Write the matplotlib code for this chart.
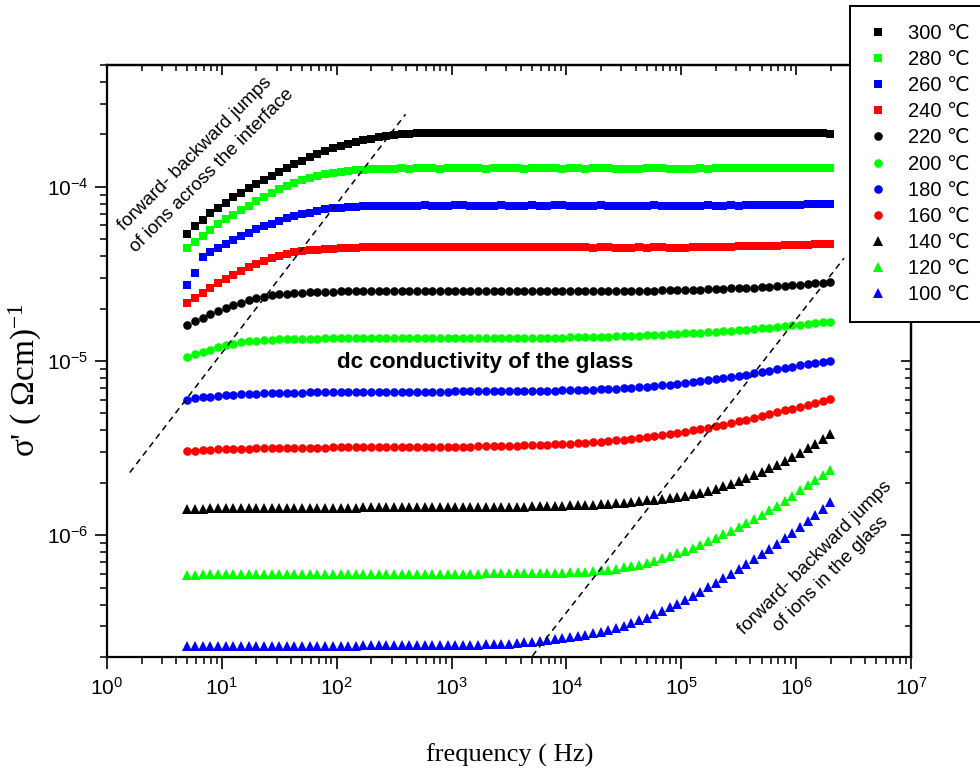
import matplotlib
matplotlib.use("Agg")
import matplotlib.pyplot as plt
from matplotlib.ticker import LogLocator, NullFormatter

plt.rcParams['font.family'] = ['Liberation Sans', 'DejaVu Sans']
plt.rcParams['mathtext.default'] = 'regular'

# Measurement frequencies (Hz), 15 points per decade from 5 Hz to 2 MHz
FREQ_HZ = [
    5.00, 5.83, 6.80, 7.93, 9.24, 10.8, 12.6, 14.6, 17.1, 19.9, 23.2, 27.1, 31.5, 36.8, 42.9,
    50.0, 58.3, 68.0, 79.3, 92.4, 108, 126, 146, 171, 199, 232, 271, 315, 368, 429,
    500, 583, 680, 793, 924, 1.08e3, 1.26e3, 1.46e3, 1.71e3, 1.99e3, 2.32e3, 2.71e3, 3.15e3, 3.68e3, 4.29e3,
    5.00e3, 5.83e3, 6.80e3, 7.93e3, 9.24e3, 1.08e4, 1.26e4, 1.46e4, 1.71e4, 1.99e4, 2.32e4, 2.71e4, 3.15e4, 3.68e4, 4.29e4,
    5.00e4, 5.83e4, 6.80e4, 7.93e4, 9.24e4, 1.08e5, 1.26e5, 1.46e5, 1.71e5, 1.99e5, 2.32e5, 2.71e5, 3.15e5, 3.68e5, 4.29e5,
    5.00e5, 5.83e5, 6.80e5, 7.93e5, 9.24e5, 1.08e6, 1.26e6, 1.46e6, 1.71e6, 1.99e6,
]

# Real part of conductivity, sigma' (in units of 1e-5 S/cm)
SIG_300 = [
    5.39, 5.94, 6.43, 7.05, 7.57, 8.09, 8.68, 9.16, 9.78, 10.35, 11.0, 11.55, 12.2, 12.75, 13.45,
    14.1, 14.75, 15.4, 16.05, 16.6, 17.15, 17.65, 18.05, 18.5, 18.85, 19.2, 19.5, 19.85, 20.0, 20.15,
    20.25, 20.3, 20.3, 20.35, 20.3, 20.35, 20.4, 20.3, 20.35, 20.35, 20.3, 20.3, 20.35, 20.4, 20.3,
    20.35, 20.4, 20.45, 20.35, 20.3, 20.35, 20.4, 20.3, 20.35, 20.4, 20.45, 20.35, 20.35, 20.3, 20.35,
    20.4, 20.3, 20.35, 20.35, 20.3, 20.25, 20.35, 20.3, 20.4, 20.35, 20.45, 20.35, 20.4, 20.3, 20.25,
    20.3, 20.35, 20.3, 20.35, 20.3, 20.25, 20.3, 20.3, 20.25, 20.2,
]
SIG_280 = [
    4.46, 4.83, 5.20, 5.63, 6.10, 6.49, 6.93, 7.34, 7.77, 8.26, 8.75, 9.23, 9.69, 10.1, 10.55,
    10.9, 11.25, 11.5, 11.8, 12.0, 12.2, 12.35, 12.45, 12.55, 12.6, 12.65, 12.7, 12.7, 12.75, 12.7,
    12.75, 12.8, 12.75, 12.7, 12.75, 12.75, 12.8, 12.75, 12.75, 12.7, 12.75, 12.8, 12.75, 12.75, 12.7,
    12.75, 12.75, 12.8, 12.75, 12.7, 12.75, 12.75, 12.7, 12.75, 12.8, 12.75, 12.7, 12.65, 12.7, 12.7,
    12.75, 12.8, 12.75, 12.7, 12.65, 12.7, 12.7, 12.75, 12.7, 12.75, 12.75, 12.8, 12.75, 12.75, 12.8,
    12.8, 12.75, 12.8, 12.8, 12.85, 12.8, 12.85, 12.85, 12.9, 12.9,
]
SIG_260 = [
    2.72, 3.18, 3.96, 4.23, 4.48, 4.72, 4.98, 5.22, 5.46, 5.69, 5.94, 6.15, 6.37, 6.58, 6.78,
    6.96, 7.11, 7.27, 7.41, 7.51, 7.60, 7.67, 7.70, 7.73, 7.75, 7.77, 7.78, 7.78, 7.80, 7.78,
    7.80, 7.82, 7.80, 7.79, 7.80, 7.82, 7.84, 7.80, 7.80, 7.79, 7.80, 7.82, 7.80, 7.78, 7.80,
    7.82, 7.80, 7.80, 7.84, 7.82, 7.80, 7.80, 7.78, 7.80, 7.82, 7.80, 7.80, 7.78, 7.76, 7.78,
    7.80, 7.82, 7.80, 7.78, 7.76, 7.78, 7.80, 7.80, 7.82, 7.80, 7.80, 7.82, 7.80, 7.82, 7.84,
    7.84, 7.82, 7.84, 7.86, 7.88, 7.90, 7.92, 7.94, 7.96, 7.98,
]
SIG_240 = [
    2.15, 2.31, 2.47, 2.63, 2.81, 2.97, 3.13, 3.29, 3.47, 3.62, 3.75, 3.89, 3.99, 4.10, 4.20,
    4.27, 4.32, 4.36, 4.40, 4.42, 4.44, 4.46, 4.48, 4.49, 4.50, 4.50, 4.51, 4.50, 4.50, 4.51,
    4.50, 4.52, 4.50, 4.49, 4.50, 4.51, 4.50, 4.50, 4.49, 4.50, 4.50, 4.51, 4.50, 4.50, 4.49,
    4.50, 4.50, 4.51, 4.52, 4.50, 4.49, 4.50, 4.50, 4.48, 4.49, 4.50, 4.48, 4.47, 4.48, 4.49,
    4.48, 4.49, 4.50, 4.48, 4.47, 4.48, 4.50, 4.50, 4.51, 4.52, 4.53, 4.54, 4.55, 4.56, 4.57,
    4.58, 4.59, 4.60, 4.61, 4.62, 4.64, 4.65, 4.67, 4.69, 4.71,
]
SIG_220 = [
    1.60, 1.69, 1.77, 1.85, 1.94, 2.01, 2.09, 2.16, 2.23, 2.29, 2.34, 2.38, 2.41, 2.44, 2.46,
    2.47, 2.48, 2.49, 2.50, 2.50, 2.51, 2.51, 2.52, 2.51, 2.52, 2.52, 2.51, 2.52, 2.52, 2.53,
    2.52, 2.52, 2.53, 2.52, 2.52, 2.52, 2.53, 2.52, 2.52, 2.53, 2.52, 2.52, 2.51, 2.52, 2.52,
    2.52, 2.52, 2.51, 2.52, 2.52, 2.51, 2.51, 2.52, 2.52, 2.51, 2.51, 2.52, 2.52, 2.52, 2.53,
    2.53, 2.53, 2.54, 2.54, 2.55, 2.55, 2.56, 2.57, 2.58, 2.59, 2.60, 2.61, 2.62, 2.63, 2.64,
    2.65, 2.67, 2.68, 2.70, 2.72, 2.74, 2.76, 2.79, 2.82, 2.85,
]
SIG_200 = [
    1.055, 1.09, 1.125, 1.16, 1.20, 1.23, 1.26, 1.28, 1.30, 1.31, 1.32, 1.325, 1.33, 1.335, 1.34,
    1.34, 1.345, 1.345, 1.35, 1.35, 1.35, 1.35, 1.355, 1.35, 1.35, 1.355, 1.35, 1.35, 1.35, 1.355,
    1.35, 1.355, 1.35, 1.35, 1.35, 1.35, 1.35, 1.35, 1.35, 1.35, 1.35, 1.35, 1.35, 1.35, 1.355,
    1.355, 1.355, 1.36, 1.36, 1.36, 1.365, 1.365, 1.37, 1.37, 1.375, 1.38, 1.385, 1.39, 1.395, 1.40,
    1.405, 1.41, 1.415, 1.42, 1.43, 1.44, 1.445, 1.455, 1.465, 1.475, 1.485, 1.495, 1.505, 1.515, 1.53,
    1.54, 1.555, 1.57, 1.585, 1.60, 1.615, 1.63, 1.65, 1.665, 1.685,
]
# sigma' in units of 1e-6 S/cm
SIG_180 = [
    6.00, 6.10, 6.18, 6.25, 6.30, 6.35, 6.40, 6.43, 6.46, 6.49, 6.51, 6.53, 6.55, 6.56, 6.57,
    6.58, 6.60, 6.60, 6.61, 6.62, 6.62, 6.63, 6.63, 6.64, 6.64, 6.65, 6.65, 6.66, 6.66, 6.67,
    6.67, 6.67, 6.68, 6.68, 6.68, 6.69, 6.69, 6.70, 6.70, 6.70, 6.71, 6.71, 6.72, 6.72, 6.73,
    6.74, 6.75, 6.76, 6.77, 6.79, 6.80, 6.82, 6.84, 6.86, 6.89, 6.92, 6.95, 6.99, 7.03, 7.08,
    7.13, 7.19, 7.25, 7.32, 7.40, 7.48, 7.57, 7.66, 7.76, 7.87, 7.98, 8.10, 8.23, 8.36, 8.50,
    8.64, 8.79, 8.95, 9.11, 9.27, 9.43, 9.58, 9.74, 9.90, 10.05,
]
SIG_160 = [
    3.03, 3.06, 3.08, 3.10, 3.11, 3.12, 3.13, 3.14, 3.14, 3.15, 3.15, 3.16, 3.16, 3.17, 3.17,
    3.17, 3.18, 3.18, 3.18, 3.19, 3.19, 3.19, 3.20, 3.20, 3.20, 3.20, 3.21, 3.21, 3.21, 3.21,
    3.21, 3.22, 3.22, 3.22, 3.22, 3.23, 3.23, 3.23, 3.24, 3.24, 3.25, 3.25, 3.26, 3.27, 3.28,
    3.29, 3.30, 3.31, 3.33, 3.34, 3.36, 3.38, 3.40, 3.42, 3.45, 3.48, 3.51, 3.54, 3.58, 3.62,
    3.66, 3.71, 3.76, 3.81, 3.87, 3.93, 4.00, 4.07, 4.15, 4.23, 4.32, 4.41, 4.51, 4.61, 4.72,
    4.83, 4.95, 5.07, 5.20, 5.33, 5.47, 5.61, 5.76, 5.92, 6.08,
]
SIG_140 = [
    1.42, 1.42, 1.42, 1.43, 1.43, 1.43, 1.43, 1.43, 1.43, 1.43, 1.44, 1.44, 1.44, 1.44, 1.44,
    1.44, 1.44, 1.44, 1.44, 1.44, 1.44, 1.44, 1.44, 1.445, 1.445, 1.445, 1.445, 1.445, 1.445, 1.445,
    1.445, 1.445, 1.445, 1.445, 1.445, 1.45, 1.45, 1.45, 1.45, 1.45, 1.45, 1.455, 1.455, 1.46, 1.46,
    1.465, 1.47, 1.47, 1.475, 1.48, 1.485, 1.49, 1.495, 1.50, 1.51, 1.52, 1.53, 1.54, 1.555, 1.57,
    1.585, 1.60, 1.62, 1.64, 1.66, 1.69, 1.72, 1.75, 1.79, 1.85, 1.91, 1.97, 2.04, 2.12, 2.21,
    2.31, 2.42, 2.54, 2.67, 2.82, 2.98, 3.16, 3.36, 3.58, 3.82,
]
# sigma' in units of 1e-7 S/cm
SIG_120 = [
    5.95, 5.95, 5.96, 5.96, 5.97, 5.97, 5.97, 5.98, 5.98, 5.98, 5.98, 5.99, 5.99, 5.99, 5.99,
    6.00, 6.00, 6.00, 6.00, 6.00, 6.00, 6.00, 6.00, 6.00, 6.00, 6.00, 6.01, 6.01, 6.01, 6.01,
    6.00, 6.00, 6.01, 6.01, 6.01, 6.01, 6.02, 6.02, 6.02, 6.03, 6.03, 6.03, 6.04, 6.04, 6.05,
    6.06, 6.07, 6.08, 6.09, 6.10, 6.12, 6.15, 6.19, 6.23, 6.28, 6.35, 6.43, 6.53, 6.65, 6.79,
    6.95, 7.14, 7.36, 7.59, 7.86, 8.15, 8.47, 8.83, 9.23, 9.66, 10.1, 10.6, 11.1, 11.7, 12.4,
    13.1, 13.9, 14.8, 15.8, 16.9, 18.1, 19.4, 20.8, 22.2, 23.7,
]
SIG_100 = [
    2.30, 2.30, 2.30, 2.30, 2.31, 2.31, 2.31, 2.31, 2.31, 2.31, 2.31, 2.32, 2.32, 2.32, 2.32,
    2.32, 2.32, 2.32, 2.32, 2.32, 2.32, 2.32, 2.32, 2.33, 2.33, 2.33, 2.33, 2.33, 2.33, 2.33,
    2.33, 2.33, 2.34, 2.34, 2.34, 2.34, 2.34, 2.35, 2.35, 2.36, 2.37, 2.38, 2.39, 2.41, 2.43,
    2.45, 2.48, 2.51, 2.54, 2.57, 2.60, 2.64, 2.68, 2.73, 2.79, 2.86, 2.94, 3.03, 3.13, 3.24,
    3.37, 3.52, 3.68, 3.86, 4.05, 4.26, 4.49, 4.74, 5.02, 5.32, 5.66, 6.02, 6.40, 6.82, 7.28,
    7.78, 8.33, 8.93, 9.60, 10.3, 11.1, 12.0, 13.0, 14.2, 15.6,
]

LABELS = ['300 ℃', '280 ℃', '260 ℃', '240 ℃', '220 ℃', '200 ℃',
          '180 ℃', '160 ℃', '140 ℃', '120 ℃', '100 ℃']
SERIES = [SIG_300, SIG_280, SIG_260, SIG_240, SIG_220, SIG_200,
          SIG_180, SIG_160, SIG_140, SIG_120, SIG_100]
UNITS = [1e-5] * 6 + [1e-6] * 3 + [1e-7] * 2

MARKERS = ['s'] * 4 + ['o'] * 4 + ['^'] * 3
COLORS = ['#000000', '#00ff00', '#0000ff', '#ff0000'] * 2 + ['#000000', '#00ff00', '#0000ff']
MSIZE = {'s': 5.6, 'o': 6.2, '^': 6.8}

# Guide lines (frequency in Hz, sigma' in S/cm)
GUIDE_INTERFACE_F = [1.58, 398.0]
GUIDE_INTERFACE_S = [2.29e-6, 2.61e-4]
GUIDE_GLASS_F = [5.06e3, 2.61e6]
GUIDE_GLASS_S = [2.03e-7, 3.89e-5]

fig = plt.figure(figsize=(9.8, 7.74), dpi=100)
ax = fig.add_axes([107 / 980, 1 - 657 / 774, 804 / 980, 592 / 774])

handles = []
for lab, vals, unit, mk, col in zip(LABELS, SERIES, UNITS, MARKERS, COLORS):
    h, = ax.plot(FREQ_HZ, [v * unit for v in vals], linestyle='none', marker=mk,
                 markersize=MSIZE[mk], color=col, markeredgewidth=0, label=lab)
    handles.append(h)

for fx, sy in ((GUIDE_INTERFACE_F, GUIDE_INTERFACE_S), (GUIDE_GLASS_F, GUIDE_GLASS_S)):
    ax.plot(fx, sy, color='black', linewidth=1.1, dashes=(4, 3))

ax.set_xscale('log')
ax.set_yscale('log')
ax.set_xlim(1, 1e7)
ax.set_ylim(2e-7, 5e-4)

for axis in (ax.xaxis, ax.yaxis):
    axis.set_major_locator(LogLocator(base=10, numticks=20))
    axis.set_minor_locator(LogLocator(base=10, subs=range(2, 10), numticks=20))
    axis.set_minor_formatter(NullFormatter())

for side in ax.spines.values():
    side.set_linewidth(1.6)

# outward ticks on bottom/left
ax.tick_params(which='major', direction='out', length=8.3, width=1.2,
               labelsize=15, top=False, right=False)
ax.tick_params(which='minor', direction='out', length=4.8, width=1.1,
               top=False, right=False)
ax.tick_params(axis='x', which='major', pad=6)
ax.tick_params(axis='y', which='major', pad=5)

# inward ticks mirrored on top/right
ax_top = ax.secondary_xaxis('top')
ax_top.xaxis.set_major_locator(LogLocator(base=10, numticks=20))
ax_top.xaxis.set_minor_locator(LogLocator(base=10, subs=range(2, 10), numticks=20))
ax_top.tick_params(which='major', direction='in', length=7, width=1.2, labeltop=False)
ax_top.tick_params(which='minor', direction='in', length=4, width=1.1)
ax_top.xaxis.set_major_formatter(NullFormatter())
ax_top.xaxis.set_minor_formatter(NullFormatter())
ax_top.spines['top'].set_linewidth(1.6)

ax_right = ax.secondary_yaxis('right')
ax_right.yaxis.set_major_locator(LogLocator(base=10, numticks=20))
ax_right.yaxis.set_minor_locator(LogLocator(base=10, subs=range(2, 10), numticks=20))
ax_right.tick_params(which='major', direction='in', length=7, width=1.2, labelright=False)
ax_right.tick_params(which='minor', direction='in', length=4, width=1.1)
ax_right.yaxis.set_major_formatter(NullFormatter())
ax_right.yaxis.set_minor_formatter(NullFormatter())
ax_right.spines['right'].set_linewidth(1.6)

ax.set_xlabel('frequency ( Hz)', family=['Liberation Serif', 'DejaVu Serif'], fontsize=19)
ax.xaxis.set_label_coords(0.501, -0.146)
ax.set_ylabel("σ' ( Ωcm)$^{\\mathregular{-1}}$", family=['Liberation Serif', 'DejaVu Serif'],
              fontsize=24)
ax.yaxis.set_label_coords(-0.078, 0.468)

ax.text(0.120, 0.836, 'forward- backward jumps\nof ions across the interface',
        transform=ax.transAxes, rotation=45, rotation_mode='anchor',
        ha='center', va='center', multialignment='center', fontsize=13.5,
        linespacing=1.5)
ax.text(0.8905, 0.154, 'forward- backward jumps\nof ions in the glass',
        transform=ax.transAxes, rotation=45, rotation_mode='anchor',
        ha='center', va='center', multialignment='center', fontsize=13.5,
        linespacing=1.5)
ax.text(0.470, 0.497, 'dc conductivity of the glass', transform=ax.transAxes,
        ha='center', va='center', fontsize=16.2, fontweight='bold')

# Figure-level legend so that it sits above the axes frame
leg = fig.legend(handles=handles, labels=LABELS, loc='upper left',
                 bbox_to_anchor=(850 / 980, 1 - 5.7 / 774),
                 bbox_transform=fig.transFigure, borderaxespad=0, frameon=True,
                 fancybox=False, edgecolor='black', framealpha=1.0, fontsize=14.5,
                 handlelength=1.0, handletextpad=1.0, borderpad=0.9,
                 labelspacing=0.355, numpoints=1)
leg.get_frame().set_linewidth(1.4)
leg.set_zorder(10)

fig.savefig('out.png', dpi=100)
